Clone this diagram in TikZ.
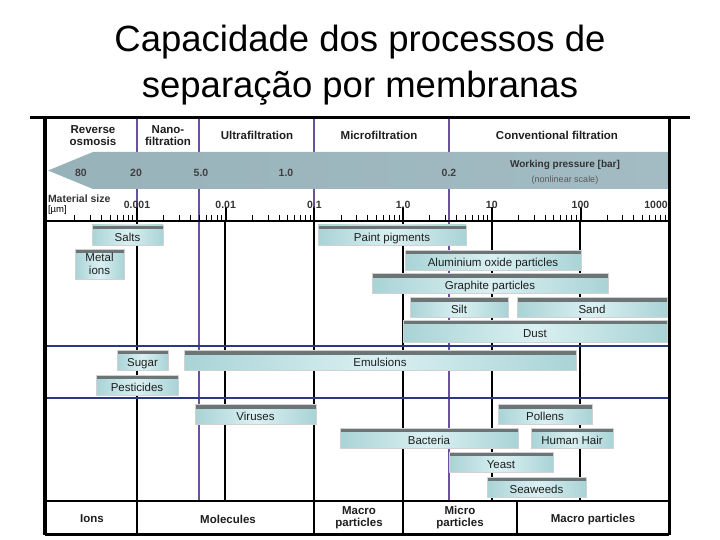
\documentclass[tikz,border=0pt]{standalone}
\usepackage{fontspec}
\setmainfont{Liberation Sans}
\usetikzlibrary{calc}
\definecolor{cBarTop} {HTML}{6B7576}
\definecolor{cBarEnd} {HTML}{A9D3D6}
\definecolor{cBarMid} {HTML}{DAF0F2}
\definecolor{cBand}   {HTML}{98B2B9}
\definecolor{cBandMid}{HTML}{D5EBEF}
\definecolor{cBandR}  {HTML}{A3BCC3}
\definecolor{cPurp}   {HTML}{6B4FA0}
\definecolor{cNavy}   {HTML}{2C3785}
\definecolor{cInk}    {HTML}{1E1E1E}
\tikzset{
  bar/.style   ={inner sep=0pt,minimum height=20pt,text=cInk,
                 font=\fontsize{11.5}{12.5}\selectfont,
                 text height=12pt,text depth=0pt,draw=black!18,line width=0.6pt,
                 left color=cBarEnd,right color=cBarEnd,middle color=cBarMid,
                 path picture={\fill[cBarTop] (path picture bounding box.north west)
                   rectangle ([yshift=-4pt]path picture bounding box.north east);}},
  hdr/.style   ={font=\bfseries\fontsize{11.5}{12}\selectfont,text=cInk,
                 align=center,inner sep=0pt},
  num/.style   ={font=\bfseries\fontsize{10.5}{12}\selectfont,text=black!80,
                 inner sep=0pt},
  grid/.style  ={draw=black,line width=2pt},
  pgrid/.style ={draw=cPurp,line width=2pt},
  sep/.style   ={draw=cNavy,line width=1.2pt},
  frame/.style ={draw=black,line width=3pt},
  minor/.style ={draw=black,line width=1pt},
  major/.style ={draw=black,line width=2pt},
}

\begin{document}
\begin{tikzpicture}[x=1pt,y={(0pt,-1pt)},every node/.style={outer sep=0pt}]
\useasboundingbox (0,0) rectangle (720,540);

\node[align=center,font=\fontsize{36.5}{46}\selectfont] (title) at (360,65)
  {Capacidade dos processos de\\separação por membranas};

% ---- header dividers and body grid ----------------------------------------
\foreach \xx in {137,199,314,449}{\draw[pgrid] (\xx,118) -- (\xx,221);}
\foreach \xx in {137,225,314,403,492,580}{\draw[grid] (\xx,221) -- (\xx,501);}
\foreach \xx in {199,449}{\draw[pgrid] (\xx,221) -- (\xx,501);}
\foreach \xx in {137,314,403,517}{\draw[grid] (\xx,501) -- (\xx,534);}
\draw[sep] (45,346) -- (668,346);
\draw[sep] (45,398) -- (668,398);
\draw[grid,line width=1.5pt] (45,501) -- (668,501);

% ---- header row ------------------------------------------------------------
\node[hdr] (ro)   at (93,136)  {Reverse\\osmosis};
\node[hdr] (nano) at (168,136) {Nano-\\filtration};
\node[hdr] (uf)   at (257,135) {Ultrafiltration};
\node[hdr] (mf)   at (379,135) {Microfiltration};
\node[hdr] (cf)   at (557,135) {Conventional filtration};

% ---- working pressure band -------------------------------------------------
\shade[left color=cBand,middle color=cBandMid,right color=cBandR]
  (48,170.5) -- (93,152) -- (668,152) -- (668,189) -- (93,189) -- cycle;
\foreach \xx/\t [count=\i] in {81/80,136/20,201/5.0,286/1.0,449/0.2}
  {\node[num,text=black!75] (p\i) at (\xx,173) {\t};}
\node[font=\bfseries\fontsize{10}{12}\selectfont,text=black!80] (wp) at (565,165)
  {Working pressure [bar]};
\node[font=\fontsize{9}{11}\selectfont,text=black!65] (nl) at (565,180)
  {(nonlinear scale)};

% ---- material size axis ----------------------------------------------------
\node[num,anchor=west] (ms) at (48,199) {Material size};
\node[font=\fontsize{9.5}{11}\selectfont,anchor=west,inner sep=0pt] (um) at (48,210) {[µm]};
\draw[black,line width=1.5pt] (45,221) -- (668,221);
\foreach \k in {-1,...,5}{
  \foreach \m in {2,...,9}{\draw[minor] ({137+88.7*(\k+log10(\m))},221) -- ++(0,-6);}}
\foreach \k in {0,...,5}{\draw[major] ({137+88.7*\k},221) -- ++(0,-14);}
\foreach \k/\t in {0/0.001,1/0.01,2/0.1,3/1.0,4/10,5/100}
  {\node[num] (d\k) at ({137+88.7*\k},205) {\t};}
\node[num] (d6) at (656,205) {1000};

% ---- particle bars ---------------------------------------------------------
\node[bar,minimum width=71pt]  (salts)  at (127.5,235)   {Salts};
\node[bar,minimum width=49pt,minimum height=30pt,align=center,
      text height={},text depth={}] (metal) at (99.5,264) {Metal\\ions};
\node[bar,minimum width=148pt] (paint)  at (392,235)     {Paint pigments};
\node[bar,minimum width=176pt] (alu)    at (493,260)     {Aluminium oxide particles};
\node[bar,minimum width=236pt] (graph)  at (490,283.5)   {Graphite particles};
\node[bar,minimum width=98pt]  (silt)   at (459,307.5)   {Silt};
\node[bar,minimum width=150pt] (sand)   at (592,307.5)   {Sand};
\node[bar,minimum width=264pt,minimum height=22pt] (dust) at (535,331) {Dust};
\node[bar,minimum width=51pt]  (sugar)  at (142.5,360)   {Sugar};
\node[bar,minimum width=392pt] (emul)   at (380,360.5)   {Emulsions};
\node[bar,minimum width=82pt]  (pest)   at (137,385)     {Pesticides};
\node[bar,minimum width=121pt] (virus)  at (255.5,414.5) {Viruses};
\node[bar,minimum width=94pt]  (pollen) at (545,414.5)   {Pollens};
\node[bar,minimum width=178pt] (bact)   at (429,438)     {Bacteria};
\node[bar,minimum width=82pt]  (hair)   at (572,438)     {Human Hair};
\node[bar,minimum width=104pt] (yeast)  at (501,462)     {Yeast};
\node[bar,minimum width=99pt]  (seaw)   at (536.5,487)   {Seaweeds};

% ---- bottom classes --------------------------------------------------------
\node[hdr] (ions)  at (92,519)  {Ions};
\node[hdr] (mol)   at (228,519) {Molecules};
\node[hdr] (macro) at (359,518) {Macro\\particles};
\node[hdr] (micro) at (460,518) {Micro\\particles};
\node[hdr] (big)   at (593,520) {Macro particles};

% ---- frame -----------------------------------------------------------------
\draw[frame] (30,118) -- (690,118);
\draw[frame,line width=4pt] (45,118) -- (45,535);
\draw[frame] (669,118) -- (669,535);
\draw[frame] (45,534) -- (669,534);
\end{tikzpicture}
\end{document}
